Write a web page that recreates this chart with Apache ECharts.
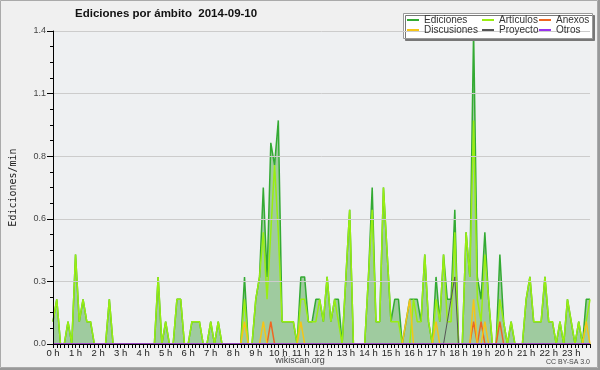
<!DOCTYPE html>
<html><head><meta charset="utf-8">
<script src="https://cdn.jsdelivr.net/npm/echarts@6/dist/echarts.min.js"></script>
<style>html,body{margin:0;padding:0;background:#f0f0f0;}#c{width:600px;height:370px;}</style>
</head><body><div id="c"></div>
<script>
// 10-minute bins, values in ediciones/min
const hourLabels = ['0 h','1 h','2 h','3 h','4 h','5 h','6 h','7 h','8 h','9 h','10 h','11 h','12 h','13 h','14 h','15 h','16 h','17 h','18 h','19 h','20 h','21 h','22 h','23 h'];
const yTickStep = 0.28;
const ediciones = [
0.1,0.2,0,0,0.1,0,  0.4,0.1,0.2,0.1,0.1,0,  0,0,0,0.2,0,0,  0,0,0,0,0,0,
0,0,0,0,0.3,0,  0.1,0,0,0.2,0.2,0,  0,0.1,0.1,0.1,0,0,  0.1,0,0.1,0,0,0,
0,0,0,0.3,0,0,  0.2,0.3,0.7,0.3,0.9,0.8,  1.0,0.1,0.1,0.1,0.1,0,  0.3,0.3,0.1,0.1,0.2,0.2,
0.1,0.3,0.1,0.2,0.2,0,  0.3,0.6,0,0,0,0,  0.3,0.7,0.1,0.1,0.7,0.4,  0.1,0.2,0.2,0,0.1,0.2,
0.2,0.2,0.1,0.4,0.1,0,  0.3,0.1,0.4,0.2,0.2,0.6,  0,0,0.5,0.3,1.4,0.3,  0.2,0.5,0.2,0,0,0.4,
0.1,0,0.1,0,0,0,  0.2,0.3,0.1,0.1,0.1,0.3,  0.1,0.1,0,0.1,0,0.2,  0.1,0,0.1,0,0.2,0.2
];
const articulos = [
0.1,0.2,0,0,0.1,0,  0.4,0.1,0.2,0.1,0.1,0,  0,0,0,0.2,0,0,  0,0,0,0,0,0,
0,0,0,0,0.3,0,  0.1,0,0,0.2,0.2,0,  0,0.1,0.1,0.1,0,0,  0.1,0,0.1,0,0,0,
0,0,0,0.2,0,0,  0.2,0.3,0.5,0.2,0.5,0.8,  0.5,0.1,0.1,0.1,0.1,0,  0.2,0.2,0.1,0.1,0.1,0.2,
0.1,0.3,0.1,0.2,0.1,0,  0.3,0.6,0,0,0,0,  0.3,0.6,0.1,0.1,0.7,0.4,  0.1,0.1,0.1,0,0,0,
0.2,0.1,0.1,0.4,0.1,0,  0.2,0.1,0.4,0.1,0.1,0.5,  0,0,0.5,0.3,1.0,0.2,  0.1,0.4,0.2,0,0,0.2,
0.1,0,0.1,0,0,0,  0.2,0.3,0.1,0.1,0.1,0.3,  0.1,0.1,0,0.1,0,0.2,  0.1,0,0.1,0,0.1,0.2
];
const discusiones = [
0,0,0,0,0,0,  0,0,0,0,0,0,  0,0,0,0,0,0,  0,0,0,0,0,0,
0,0,0,0,0,0,  0,0,0,0,0,0,  0,0,0,0,0,0,  0,0,0,0,0,0,
0,0,0,0.1,0,0,  0,0,0.1,0,0,0,  0,0,0,0,0,0,  0.1,0,0,0,0,0,
0,0,0,0,0,0,  0,0,0,0,0,0,  0,0,0,0,0,0,  0,0,0,0,0.1,0.2,
0,0,0,0,0,0,  0.1,0,0,0,0,0,  0,0,0,0,0.2,0,  0,0.1,0,0,0,0,
0,0,0,0,0,0,  0,0,0,0,0,0,  0,0,0,0,0,0,  0,0,0,0,0.1,0
];
const anexos = [
0,0,0,0,0,0,  0,0,0,0,0,0,  0,0,0,0,0,0,  0,0,0,0,0,0,
0,0,0,0,0,0,  0,0,0,0,0,0,  0,0,0,0,0,0,  0,0,0,0,0,0,
0,0,0,0,0,0,  0,0,0,0,0.1,0,  0,0,0,0,0,0,  0,0,0,0,0,0,
0,0,0,0,0,0,  0,0,0,0,0,0,  0,0,0,0,0,0,  0,0,0,0,0,0,
0,0,0,0,0,0,  0,0,0,0,0,0,  0,0,0,0,0.1,0,  0.1,0,0,0,0,0.1,
0,0,0,0,0,0,  0,0,0,0,0,0,  0,0,0,0,0,0,  0,0,0,0,0,0
];
const proyecto = [
0,0,0,0,0,0,  0,0,0,0,0,0,  0,0,0,0,0,0,  0,0,0,0,0,0,
0,0,0,0,0,0,  0,0,0,0,0,0,  0,0,0,0,0,0,  0,0,0,0,0,0,
0,0,0,0,0,0,  0,0,0,0,0,0,  0,0,0,0,0,0,  0,0,0,0,0,0,
0,0,0,0,0,0,  0,0,0,0,0,0,  0,0,0,0,0,0,  0,0,0,0,0,0,
0,0,0,0,0,0,  0,0,0,0.1,0.2,0.3,  0,0,0,0,0,0,  0,0,0,0,0,0,
0,0,0,0,0,0,  0,0,0,0,0,0,  0,0,0,0,0,0,  0,0,0,0,0,0
];
const otros = [
0,0,0,0,0,0,  0,0,0,0,0,0,  0,0,0,0,0,0,  0,0,0,0,0,0,
0,0,0,0,0,0,  0,0,0,0,0,0,  0,0,0,0,0,0,  0,0,0,0,0,0,
0,0,0,0,0,0,  0,0,0,0,0,0,  0,0,0,0,0,0,  0,0,0,0,0,0,
0,0,0,0,0,0,  0,0,0,0,0,0,  0,0,0,0,0,0,  0,0,0,0,0,0,
0,0,0,0,0,0,  0,0,0,0,0,0,  0,0,0,0,0,0,  0,0,0,0,0,0,
0,0,0,0,0,0,  0,0,0,0,0,0,  0,0,0,0,0,0,  0,0,0,0,0,0
];

const pts = arr => arr.map((v, i) => [i, v]);
const lineSeries = (name, arr, color, extra) => Object.assign({
  name, type: 'line', data: pts(arr), symbol: 'none', showSymbol: false,
  lineStyle: { color, width: 1.5 }, itemStyle: { color }, animation: false
}, extra || {});

const chart = echarts.init(document.getElementById('c'), null, { renderer: 'canvas' });
const legendText = { fontFamily: 'Liberation Sans', fontSize: 10, color: '#333', lineHeight: 10 };
const legendBase = { orient: 'vertical', top: 15, itemWidth: 12, itemHeight: 2, icon: 'rect', itemGap: 0,
  selectedMode: false, textStyle: legendText, z: 10, padding: 0 };
chart.setOption({
  backgroundColor: '#f0f0f0',
  animation: false,
  title: { text: 'Ediciones por ámbito  2014-09-10', left: 75, top: 8, padding: 0,
    textStyle: { fontFamily: 'Liberation Sans', fontWeight: 'bold', fontSize: 11.5, color: '#111' } },
  legend: [
    Object.assign({ left: 407, data: ['Ediciones', 'Discusiones'] }, legendBase),
    Object.assign({ left: 482, data: ['Artículos', 'Proyecto'] }, legendBase),
    Object.assign({ left: 539, data: ['Anexos', 'Otros'] }, legendBase)
  ],
  grid: { left: 46, right: 10, top: 31, bottom: 26, show: true, backgroundColor: '#eef0f2', borderWidth: 0 },
  xAxis: {
    type: 'value', min: 0, max: ediciones.length - 1, interval: 6, z: 10,
    axisLine: { show: true, lineStyle: { color: '#000', width: 1 } },
    axisTick: { show: true, length: 4, lineStyle: { color: '#000' } },
    minorTick: { show: true, splitNumber: 6, length: 4, lineStyle: { color: '#000' } },
    splitLine: { show: false },
    axisLabel: { margin: 4, fontFamily: 'Liberation Sans', fontSize: 9.5, color: '#222',
      showMaxLabel: false,
      formatter: v => (v % 6 === 0 ? hourLabels[v / 6] : '') }
  },
  yAxis: {
    type: 'value', min: 0, max: 1.4, interval: yTickStep, z: 10,
    name: 'Ediciones/min', nameLocation: 'middle', nameGap: 35, nameRotate: 90,
    nameTextStyle: { fontFamily: 'DejaVu Sans Mono', fontSize: 10, color: '#222' },
    axisLine: { show: true, lineStyle: { color: '#000', width: 1 } },
    axisTick: { show: true, length: 6, lineStyle: { color: '#000' } },
    minorTick: { show: true, splitNumber: 4, length: 3, lineStyle: { color: '#000' } },
    splitLine: { show: true, lineStyle: { color: '#cccccc', width: 1 } },
    axisLabel: { margin: 7, fontFamily: 'Liberation Sans', fontSize: 9, color: '#444',
      formatter: v => v.toFixed(1) }
  },
  series: [
    lineSeries('Ediciones', ediciones, '#33aa33', { areaStyle: { color: '#9fcb9f', opacity: 1 }, z: 2 }),
    lineSeries('Artículos', articulos, '#99ee11', { z: 3 }),
    lineSeries('Anexos', anexos, '#ee6622', { z: 4 }),
    lineSeries('Discusiones', discusiones, '#f5c518', { z: 4 }),
    lineSeries('Proyecto', proyecto, '#555555', { z: 4, lineStyle: { color: '#555555', width: 1 } }),
    lineSeries('Otros', otros, '#9933ee', { z: 4 })
  ],
  graphic: [
    { type: 'rect', z: 8, shape: { x: 403.5, y: 13.5, width: 189, height: 25 },
      style: { fill: '#ffffff', stroke: '#999999', lineWidth: 1, shadowColor: '#777777', shadowOffsetX: 2, shadowOffsetY: 2, shadowBlur: 0 } },
    { type: 'text', z: 8, x: 300, y: 361, style: { text: 'wikiscan.org', fontFamily: 'Liberation Sans', fontSize: 9, fill: '#444', align: 'center', verticalAlign: 'middle' } },
    { type: 'text', z: 8, x: 590, y: 362, style: { text: 'CC BY-SA 3.0', fontFamily: 'Liberation Sans', fontSize: 7, fill: '#444', align: 'right', verticalAlign: 'middle' } },
    { type: 'rect', z: 20, silent: true, shape: { x: 0.5, y: 0.5, width: 597, height: 367 },
      style: { fill: 'none', stroke: '#aaaaaa', lineWidth: 1 } },
    { type: 'line', z: 20, silent: true, shape: { x1: 599, y1: 0, x2: 599, y2: 370 }, style: { stroke: '#999999', lineWidth: 2 } },
    { type: 'line', z: 20, silent: true, shape: { x1: 0, y1: 369, x2: 600, y2: 369 }, style: { stroke: '#999999', lineWidth: 2 } }
  ]
});
</script></body></html>
